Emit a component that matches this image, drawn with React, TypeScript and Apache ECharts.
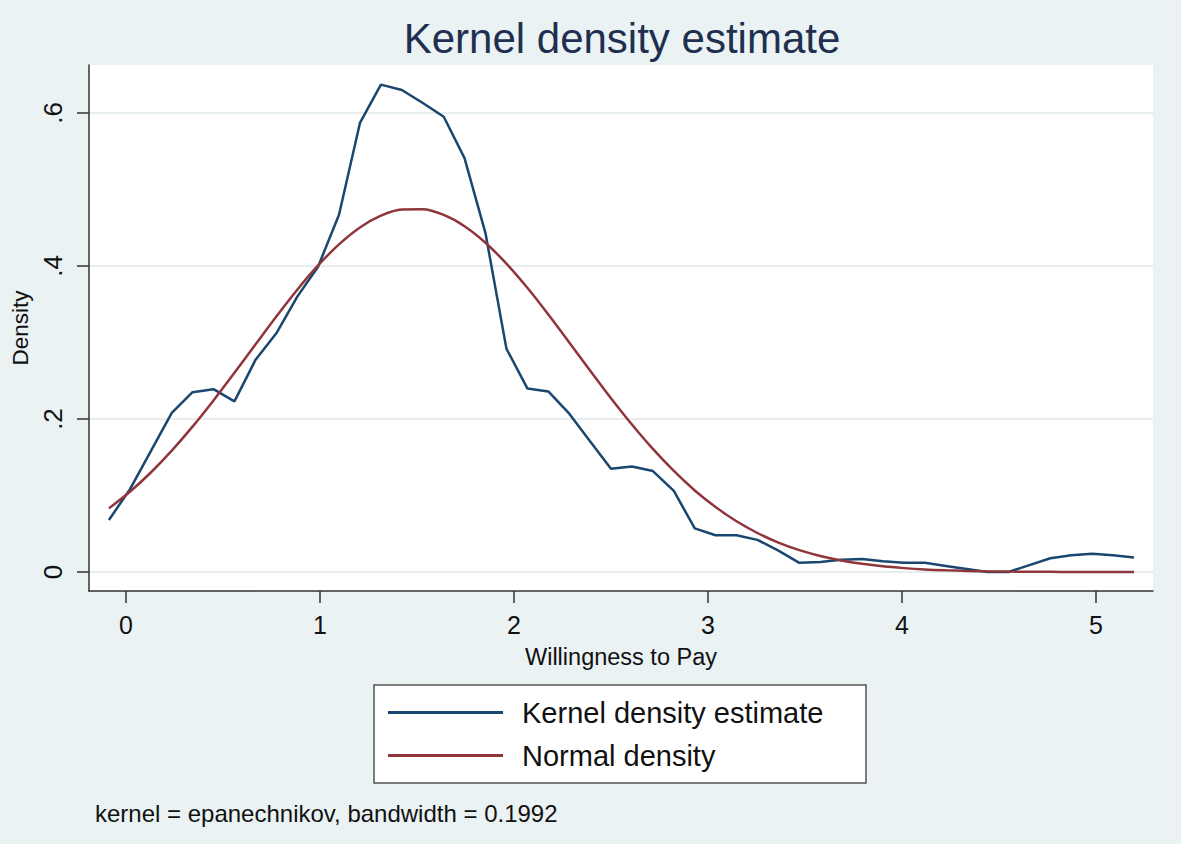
import React, { useEffect, useRef } from 'react';
import * as echarts from 'echarts';

const chartTitle = 'Kernel density estimate';
const xAxisTitle = 'Willingness to Pay';
const yAxisTitle = 'Density';
const noteText = 'kernel = epanechnikov, bandwidth = 0.1992';
const seriesNames = ['Kernel density estimate', 'Normal density'];

const xTicks = [0, 1, 2, 3, 4, 5];
const yTicks = [0, 0.2, 0.4, 0.6];

// evaluation points of the density estimate
const evalX = [
  -0.088, 0.02, 0.128, 0.236, 0.343, 0.451, 0.559, 0.667, 0.775, 0.883,
  0.99, 1.098, 1.206, 1.314, 1.422, 1.53, 1.638, 1.745, 1.853, 1.961,
  2.069, 2.177, 2.285, 2.392, 2.5, 2.608, 2.716, 2.824, 2.932, 3.039,
  3.147, 3.255, 3.363, 3.471, 3.579, 3.687, 3.794, 3.902, 4.01, 4.118,
  4.226, 4.334, 4.441, 4.549, 4.657, 4.765, 4.873, 4.981, 5.088, 5.196,
];

const kernelY = [
  0.068, 0.108, 0.158, 0.208, 0.235, 0.239, 0.223, 0.277, 0.312, 0.36,
  0.399, 0.467, 0.587, 0.637, 0.63, 0.613, 0.595, 0.541, 0.443, 0.292,
  0.24, 0.236, 0.207, 0.171, 0.135, 0.138, 0.132, 0.106, 0.057, 0.048,
  0.048, 0.042, 0.028, 0.012, 0.013, 0.016, 0.017, 0.014, 0.012, 0.012,
  0.008, 0.004, 0.0, 0.0, 0.009, 0.018, 0.022, 0.024, 0.022, 0.019,
];

const normalY = [
  0.0832, 0.1049, 0.1301, 0.1587, 0.19, 0.2243, 0.2604, 0.2973, 0.334, 0.369,
  0.4007, 0.4283, 0.4504, 0.4658, 0.4739, 0.4741, 0.4667, 0.452, 0.4304, 0.4031,
  0.3715, 0.3366, 0.3001, 0.2635, 0.2272, 0.1928, 0.1609, 0.1321, 0.1066, 0.0849,
  0.0663, 0.051, 0.0385, 0.0286, 0.0209, 0.0151, 0.0107, 0.0074, 0.0051, 0.0034,
  0.0023, 0.0015, 0.0009, 0.0006, 0.0004, 0.0002, 0.0001, 0.0001, 0.0, 0.0,
];

const FONT = '"Liberation Sans", Arial, Helvetica, sans-serif';

export default function App() {
  const ref = useRef<HTMLDivElement>(null);

  useEffect(() => {
    if (!ref.current) return;
    const chart = echarts.init(ref.current, undefined, { renderer: 'svg' });
    const kernelData = evalX.map((x, i) => [x, kernelY[i]]);
    const normalData = evalX.map((x, i) => [x, normalY[i]]);

    chart.setOption({
      animation: false,
      backgroundColor: '#eaf2f3',
      textStyle: { fontFamily: FONT },
      grid: {
        left: 89,
        top: 65,
        width: 1064,
        height: 526,
        show: true,
        backgroundColor: '#ffffff',
        borderWidth: 0,
      },
      xAxis: {
        type: 'value',
        min: -0.1907,
        max: 5.294,
        name: xAxisTitle,
        nameLocation: 'middle',
        nameGap: 54,
        nameTextStyle: { fontSize: 23.5, color: '#111', fontFamily: FONT },
        axisLine: { show: true, onZero: false, lineStyle: { color: '#333', width: 1.5 } },
        axisTick: { show: true, length: 12, customValues: xTicks, lineStyle: { color: '#333', width: 1.5 } },
        axisLabel: {
          customValues: xTicks,
          fontSize: 25,
          color: '#111',
          margin: 21,
          fontFamily: FONT,
          formatter: (v: number) => String(v),
        },
        splitLine: { show: false },
      },
      yAxis: {
        type: 'value',
        min: -0.0248,
        max: 0.6627,
        name: yAxisTitle,
        nameLocation: 'middle',
        nameRotate: 90,
        nameGap: 55,
        nameTextStyle: { fontSize: 22.5, color: '#111', fontFamily: FONT },
        axisLine: { show: true, onZero: false, lineStyle: { color: '#333', width: 1.5 } },
        axisTick: { show: true, length: 12, customValues: yTicks, lineStyle: { color: '#333', width: 1.5 } },
        axisLabel: {
          customValues: yTicks,
          rotate: 90,
          fontSize: 26,
          color: '#111',
          margin: 23,
          fontFamily: FONT,
          formatter: (v: number) => (Math.abs(v) < 1e-9 ? '0' : v.toFixed(1).replace(/^0/, '')),
        },
        splitLine: { show: true, lineStyle: { color: '#e6eded', width: 2 } },
      },
      legend: {
        orient: 'vertical',
        left: 388,
        top: 698,
        padding: 0,
        itemWidth: 115,
        itemHeight: 3,
        itemGap: 14,
        icon: 'rect',
        z: 10,
        textStyle: { fontSize: 29, color: '#111', fontFamily: FONT, padding: [0, 0, 0, 14] },
        data: seriesNames,
      },
      graphic: [
        {
          type: 'rect',
          z: 1,
          shape: { x: 374, y: 685, width: 492, height: 98 },
          style: { fill: '#ffffff', stroke: '#555555', lineWidth: 1.5 },
        },
        {
          type: 'text',
          z: 5,
          x: 622,
          y: 38,
          style: {
            text: chartTitle,
            fontSize: 42,
            fontFamily: FONT,
            fill: '#1f2f4f',
            textAlign: 'center',
            textVerticalAlign: 'middle',
          },
        },
        {
          type: 'text',
          z: 5,
          x: 95,
          y: 813,
          style: {
            text: noteText,
            fontSize: 24,
            fontFamily: FONT,
            fill: '#111',
            textAlign: 'left',
            textVerticalAlign: 'middle',
          },
        },
      ],
      series: [
        {
          name: seriesNames[0],
          type: 'line',
          data: kernelData,
          showSymbol: false,
          symbol: 'none',
          color: '#1a476f',
          lineStyle: { color: '#1a476f', width: 2.5 },
          z: 3,
        },
        {
          name: seriesNames[1],
          type: 'line',
          data: normalData,
          smooth: 0.3,
          showSymbol: false,
          symbol: 'none',
          color: '#90353b',
          lineStyle: { color: '#90353b', width: 2.5 },
          z: 4,
        },
      ],
    });

    return () => chart.dispose();
  }, []);

  return (
    <div
      ref={ref}
      style={{ position: 'fixed', left: 0, top: 0, width: 1181, height: 844 }}
    />
  );
}
